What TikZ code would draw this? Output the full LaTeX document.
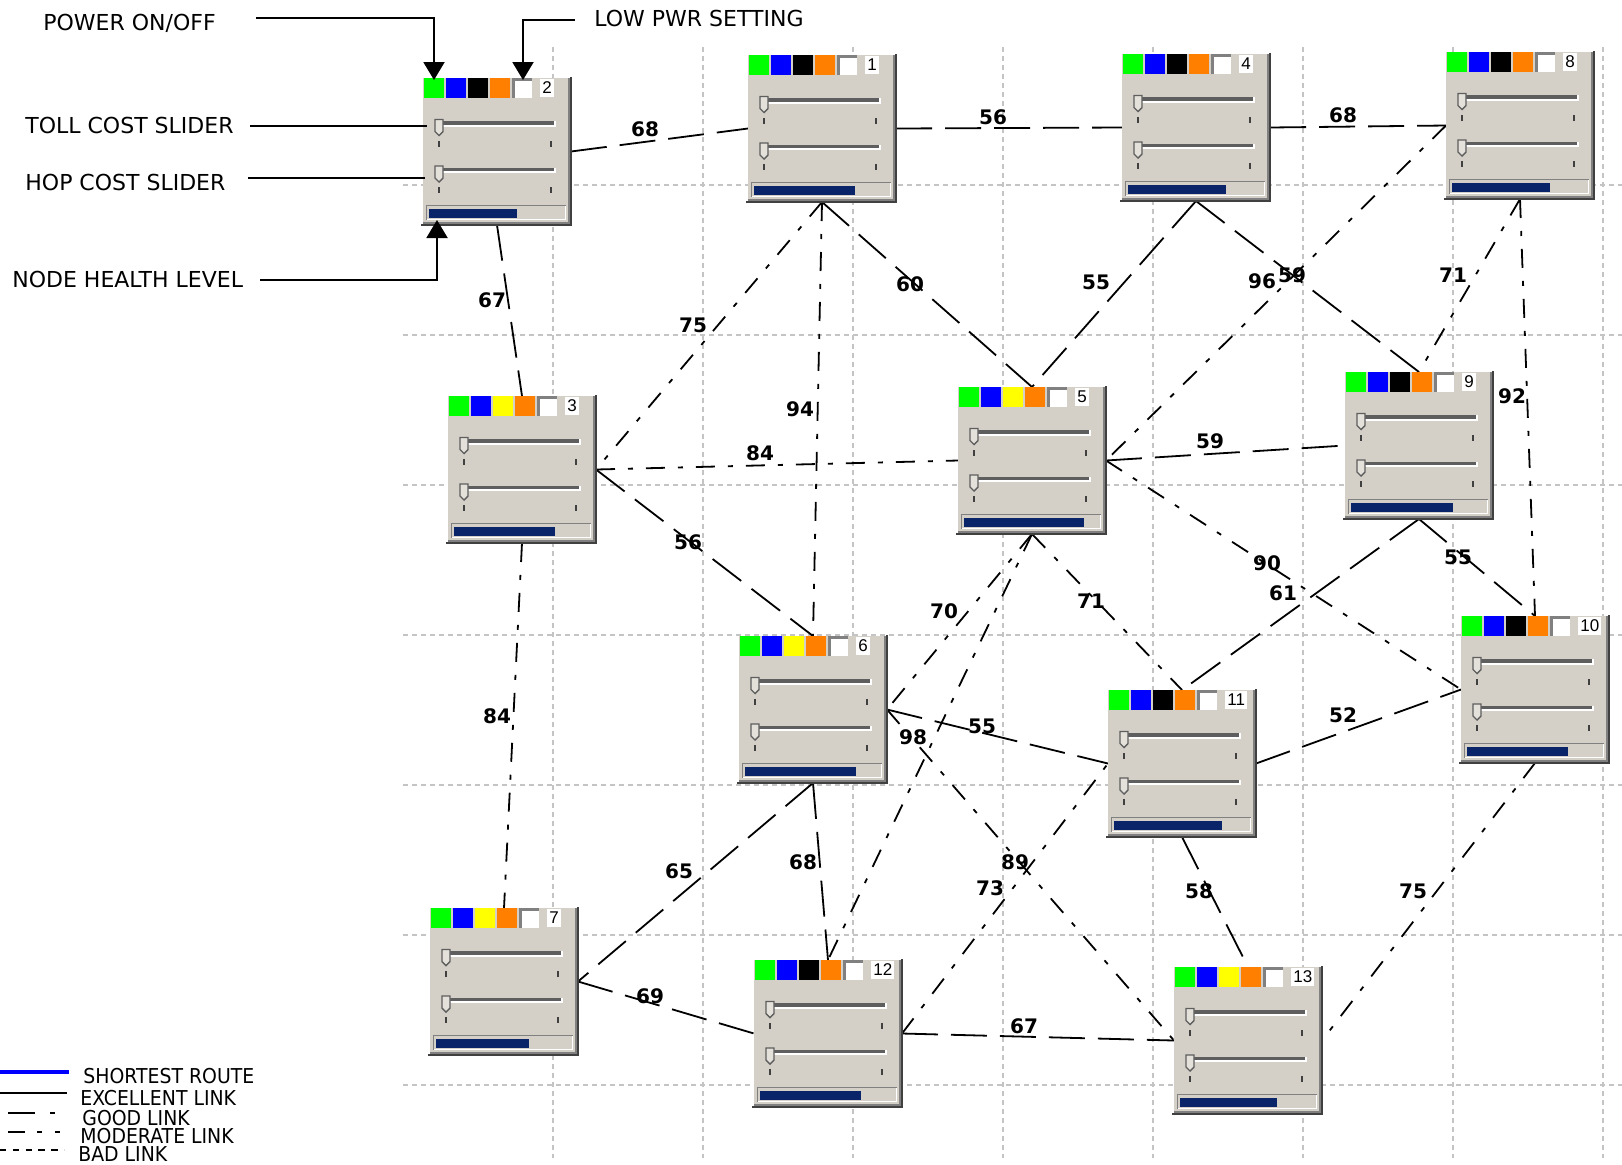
\documentclass[tikz,border=0pt]{standalone}
\usepackage{fontspec}
\setmainfont{DejaVu Sans}
\newfontfamily\legfont[FakeStretch=0.92]{DejaVu Sans}
\newfontfamily\numfont{Liberation Sans}
\usetikzlibrary{arrows.meta}
\pgfdeclarelayer{back}
\pgfdeclarelayer{bg}
\pgfsetlayers{back,bg,main}
\definecolor{body}{HTML}{D4D0C8}
\definecolor{navy}{HTML}{0A246A}
\definecolor{cgreen}{HTML}{00FF00}
\definecolor{cblue}{HTML}{0000FF}
\definecolor{cyellow}{HTML}{FFFF00}
\definecolor{corange}{HTML}{FF8000}
\definecolor{cblack}{HTML}{000000}
\definecolor{gridc}{HTML}{C4C4C4}
\definecolor{dgray}{HTML}{808080}
\definecolor{groove}{HTML}{5E5E5E}
\definecolor{ddgray}{HTML}{404040}
\definecolor{thumbc}{HTML}{E4E1DA}

\tikzset{
  wnode/.style={rectangle, minimum width=74pt, minimum height=73.5pt, inner sep=0pt, outer sep=0pt},
  numlbl/.style={fill=white, inner xsep=1pt, inner ysep=0pt, minimum height=9pt, font=\numfont\fontsize{8.5}{10}\selectfont},
  elbl/.style={inner sep=0pt, font=\bfseries\fontsize{10}{12}\selectfont},
  annot/.style={inner sep=0pt, font=\fontsize{11}{13}\selectfont},
  legtext/.style={inner sep=0pt, font=\legfont\fontsize{10.25}{12}\selectfont},
  annotline/.style={line width=1pt, black},
  tip/.style={-{Triangle[width=10.5pt,length=9pt]}},
  gridl/.style={gridc, line width=0.9pt, dash pattern=on 2.5pt off 2pt},
  linkA/.style={line width=0.9pt, black, dash pattern=on 18pt off 6.5pt},
  linkB/.style={line width=0.9pt, black, dash pattern=on 9.5pt off 6.5pt on 2.5pt off 6.5pt},
}

\newcommand{\wslider}[1]{%
  \fill[groove] (12,#1-2.5) rectangle (132,#1+1);
  \fill[white] (12,#1+1) rectangle (133,#1+3);
  \fill[white] (131,#1-2.5) rectangle (133,#1+1);
  \filldraw[fill=thumbc, draw=groove, line width=0.7pt] (12,#1-4) -- (20,#1-4) -- (20,#1+8) -- (16,#1+12) -- (12,#1+8) -- cycle;
  \fill[ddgray] (15,#1+17) rectangle (17,#1+23);
  \fill[ddgray] (127,#1+17) rectangle (129,#1+23);
}

\newcommand{\wdg}[6]{%
\begin{scope}[shift={(#2,#3)}]
  \node[wnode] (#1) at (74,73.5) {};
  \fill[body] (0,0) rectangle (146,145);
  \fill[dgray] (145,0) rectangle (147,146);
  \fill[dgray] (0,144) rectangle (147,146);
  \fill[ddgray] (147,-1) rectangle (149,148);
  \fill[ddgray] (-2,146) rectangle (149,148);
  \fill[cgreen] (1,0) rectangle (21,20);
  \fill[cblue] (23,0) rectangle (43,20);
  \fill[#5] (45,0) rectangle (65,20);
  \fill[corange] (67,0) rectangle (87,20);
  \fill[white] (89,0) rectangle (109,20);
  \fill[dgray] (89,0) rectangle (92,20);
  \fill[dgray] (89,0) rectangle (109,2.5);
  \node[numlbl, anchor=west] (#1-num) at (117,10) {#4};
  \wslider{45.5}
  \wslider{92}
  \fill[dgray] (3,127) rectangle (143,142);
  \fill[white] (4,128) rectangle (143,142);
  \fill[body] (4,128) rectangle (142,141);
  \fill[navy] (6,131) rectangle (6+#6,140);
\end{scope}}

\begin{document}
\begin{tikzpicture}[x=0.5pt, y=-0.5pt]
\useasboundingbox (0,0) rectangle (1622,1164);
\begin{pgfonlayer}{back}
\fill[white] (0,0) rectangle (1622,1164);
\end{pgfonlayer}

% widgets
\wdg{n2}{423}{78}{2}{cblack}{88}
\wdg{n1}{748}{55}{1}{cblack}{101}
\wdg{n4}{1122}{54}{4}{cblack}{98}
\wdg{n8}{1446}{52}{8}{cblack}{98}
\wdg{n3}{448}{396}{3}{cyellow}{101}
\wdg{n5}{958}{387}{5}{cyellow}{120}
\wdg{n9}{1345}{372}{9}{cblack}{102}
\wdg{n10}{1461}{616}{10}{cblack}{101}
\wdg{n6}{739}{636}{6}{cyellow}{111}
\wdg{n11}{1108}{690}{11}{cblack}{108}
\wdg{n7}{430}{908}{7}{cyellow}{93}
\wdg{n12}{754}{960}{12}{cblack}{101}
\wdg{n13}{1174}{967}{13}{cyellow}{97}

\begin{pgfonlayer}{bg}
  \foreach \gx in {553,703,...,1603} \draw[gridl] (\gx,47) -- (\gx,1158);
  \foreach \gy in {185,335,...,1085} \draw[gridl] (403,\gy) -- (1622,\gy);

  \draw[linkA] (n2.east) -- (n1.west);
  \draw[linkA] (n1.east) -- (n4.west);
  \draw[linkA] (n4.east) -- (n8.west);
  \draw[linkA] (n2.south) -- (n3.north);
  \draw[linkA] (n1.south) -- (n5.north);
  \draw[linkB] (n1.south) -- (n3.east);
  \draw[linkB] (n1.south) -- (n6.north);
  \draw[linkA] (n4.south) -- (n5.north);
  \draw[linkA] (n4.south) -- (n9.north);
  \draw[linkB] (n8.west) -- (n5.east);
  \draw[linkB] (n8.south) -- (n9.north);
  \draw[linkB] (n8.south) -- (n10.north);
  \draw[linkB] (n3.east) -- (n5.west);
  \draw[linkA] (n3.east) -- (n6.north);
  \draw[linkB] (n3.south) -- (n7.north);
  \draw[linkA] (n5.east) -- (n9.west);
  \draw[linkB] (n5.east) -- (n10.west);
  \draw[linkB] (n5.south) -- (n11.north);
  \draw[linkB] (n5.south) -- (n6.east);
  \draw[linkB] (n5.south) -- (n12.north);
  \draw[linkA] (n9.south) -- (n11.north);
  \draw[linkA] (n9.south) -- (n10.north);
  \draw[linkA] (n6.east) -- (n11.west);
  \draw[linkB] (n6.east) -- (n13.west);
  \draw[linkA] (n6.south) -- (n12.north);
  \draw[linkA] (n6.south) -- (n7.east);
  \draw[linkA] (n7.east) -- (n12.west);
  \draw[linkA] (n12.east) -- (n13.west);
  \draw[linkB] (n12.east) -- (n11.west);
  \draw[linkA] (n11.east) -- (n10.west);
  \draw[linkA] (n11.south) -- (n13.north);
  \draw[linkB] (n10.south) -- (n13.east);
\end{pgfonlayer}

% edge labels
\node[elbl] (l21) at (645,129) {68};
\node[elbl] (l14) at (993,117) {56};
\node[elbl] (l48) at (1343,115) {68};
\node[elbl] (l23) at (492,300) {67};
\node[elbl] (l13) at (693,325) {75};
\node[elbl] (l16) at (800,409) {94};
\node[elbl] (l15) at (910,284) {60};
\node[elbl] (l45) at (1096,282) {55};
\node[elbl] (l49) at (1262,281) {96};
\node[elbl] (l85) at (1292,275) {59};
\node[elbl] (l89) at (1453,275) {71};
\node[elbl] (l810) at (1512,396) {92};
\node[elbl] (l35) at (760,453) {84};
\node[elbl] (l59) at (1210,441) {59};
\node[elbl] (l36) at (688,542) {56};
\node[elbl] (l510) at (1267,563) {90};
\node[elbl] (l911) at (1283,593) {61};
\node[elbl] (l910) at (1458,557) {55};
\node[elbl] (l511) at (1091,601) {71};
\node[elbl] (l56) at (944,611) {70};
\node[elbl] (l37) at (497,716) {84};
\node[elbl] (l611) at (982,726) {55};
\node[elbl] (l512) at (913,737) {98};
\node[elbl] (l1110) at (1343,715) {52};
\node[elbl] (l67) at (679,871) {65};
\node[elbl] (l612) at (803,862) {68};
\node[elbl] (l613) at (1015,862) {89};
\node[elbl] (l1211) at (990,888) {73};
\node[elbl] (l1113) at (1199,891) {58};
\node[elbl] (l1013) at (1413,891) {75};
\node[elbl] (l712) at (650,996) {69};
\node[elbl] (l1213) at (1024,1026) {67};

% annotations
\node[annot, anchor=base west] (pwr) at (43,30) {POWER ON/OFF};
\node[annot, anchor=base west] (low) at (594,26) {LOW PWR SETTING};
\node[annot, anchor=base west] (toll) at (25,133) {TOLL COST SLIDER};
\node[annot, anchor=base west] (hop) at (25,190) {HOP COST SLIDER};
\node[annot, anchor=base west] (hlth) at (12,287) {NODE HEALTH LEVEL};
\coordinate (pwrA) at (256,18);  \coordinate (pwrT) at (434,80);
\coordinate (lowA) at (575,20);  \coordinate (lowT) at (523,80);
\coordinate (tollA) at (250,126); \coordinate (tollT) at (427,126);
\coordinate (hopA) at (248,178);  \coordinate (hopT) at (425,178);
\coordinate (hlA) at (260,280);   \coordinate (hlT) at (437,220);
\draw[annotline, tip] (pwrA) -| (pwrT);
\draw[annotline, tip] (lowA) -| (lowT);
\draw[annotline] (tollA) -- (tollT);
\draw[annotline] (hopA) -- (hopT);
\draw[annotline, tip] (hlA) -| (hlT);

% legend
\coordinate (lg1a) at (0,1072); \coordinate (lg1b) at (69,1072);
\coordinate (lg2a) at (0,1093); \coordinate (lg2b) at (67,1093);
\coordinate (lg3a) at (8,1113); \coordinate (lg3b) at (56,1113);
\coordinate (lg4a) at (8,1132); \coordinate (lg4b) at (61,1132);
\coordinate (lg5a) at (0,1150); \coordinate (lg5b) at (64,1150);
\draw[cblue, line width=1.6pt] (lg1a) -- (lg1b);
\draw[black, line width=1pt] (lg2a) -- (lg2b);
\draw[black, line width=1pt, dash pattern=on 13.5pt off 7.5pt on 2.5pt off 10pt] (lg3a) -- (lg3b);
\draw[black, line width=1pt, dash pattern=on 8.5pt off 6pt on 2.5pt off 6.5pt on 2.5pt off 10pt] (lg4a) -- (lg4b);
\draw[black, line width=1pt, dash pattern=on 3.2pt off 3.2pt] (lg5a) -- (lg5b);
\node[legtext, anchor=base west] (lgt1) at (83,1083) {SHORTEST ROUTE};
\node[legtext, anchor=base west] (lgt2) at (80,1105) {EXCELLENT LINK};
\node[legtext, anchor=base west] (lgt3) at (82,1125) {GOOD LINK};
\node[legtext, anchor=base west] (lgt4) at (80,1143) {MODERATE LINK};
\node[legtext, anchor=base west] (lgt5) at (78,1161) {BAD LINK};
\end{tikzpicture}
\end{document}
